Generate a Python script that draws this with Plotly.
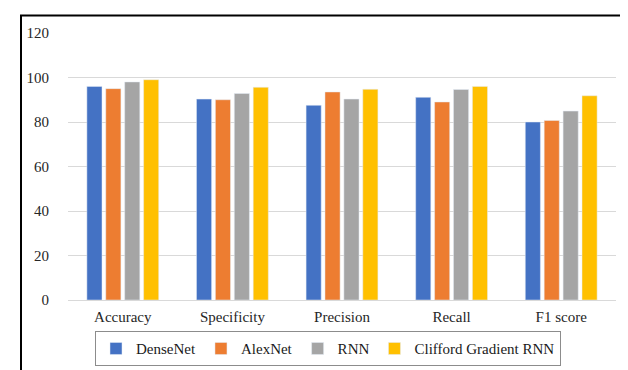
import plotly.graph_objects as go

categories = ["Accuracy", "Specificity", "Precision", "Recall", "F1 score"]
densenet = [96, 90.3, 87.5, 91.1, 80]
alexnet = [95, 90, 93.5, 89, 80.7]
rnn = [98, 92.8, 90.3, 94.6, 84.9]
clifford = [99, 95.6, 94.7, 96, 91.8]
series_names = ["DenseNet", "AlexNet", "RNN", "Clifford Gradient RNN"]
colors = ["#4472C4", "#ED7D31", "#A5A5A5", "#FFC000"]

fig = go.Figure()
for name, vals, c in zip(series_names, [densenet, alexnet, rnn, clifford], colors):
    fig.add_trace(go.Bar(x=categories, y=vals, name=name, marker_color=c))

L, R, T, B = 60, 20, 25, 71
W, H = 628, 370
pw, ph = W - L - R, H - T - B

def px_x(x):
    return (x - L) / pw

def px_y(y):
    return (H - B - y) / ph

fig.update_layout(
    width=W, height=H,
    margin=dict(l=L, r=R, t=T, b=B),
    paper_bgcolor="white", plot_bgcolor="white",
    font=dict(family="Liberation Serif, Times New Roman, serif", size=15, color="#262626"),
    barmode="group", bargap=0.31, bargroupgap=0.2,
    showlegend=True,
    legend=dict(orientation="h", x=px_x(320), xanchor="center", y=px_y(349), yanchor="middle",
                bordercolor="#8c8c8c", borderwidth=1, font=dict(size=15, color="#1a1a1a"),
                itemwidth=30, tracegroupgap=0),
    xaxis=dict(showgrid=False, ticks="", showline=False, tickfont=dict(size=15),
               ticklabelstandoff=6),
    yaxis=dict(range=[0, 120], dtick=20, showgrid=True, gridcolor="#d9d9d9", gridwidth=1,
               zeroline=True, zerolinecolor="#d9d9d9", zerolinewidth=1,
               showline=False, ticks="", ticklabelstandoff=18, tickfont=dict(size=15)),
    shapes=[dict(type="rect", xref="paper", yref="paper",
                 x0=px_x(13), x1=px_x(626), y0=px_y(372), y1=px_y(7),
                 line=dict(color="black", width=2), fillcolor="rgba(0,0,0,0)", layer="above")],
)

fig.write_html("out.html")
